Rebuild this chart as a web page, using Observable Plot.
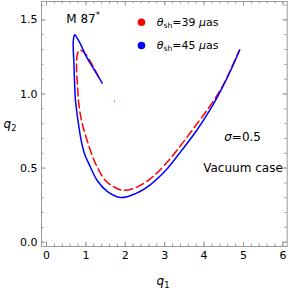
<!DOCTYPE html>
<html><head><meta charset="utf-8">
<script src="https://cdn.jsdelivr.net/npm/d3@7"></script>
<script src="https://cdn.jsdelivr.net/npm/@observablehq/plot@0.6"></script>
<style>body{margin:0;background:#fff}svg{display:block}</style>
</head><body><div id="chart"></div>
<script>
// theta_sh = 45 muas (blue, solid)
const blueQ1 = [1.414, 1.200, 1.015, 0.863, 0.761, 0.718, 0.685, 0.678, 0.693, 0.711, 0.736, 0.799, 0.881, 0.964, 1.074, 1.287, 1.548, 1.878, 2.259, 2.640, 3.020, 3.426, 3.807, 4.137, 4.442, 4.680, 4.906];
const blueQ2 = [1.073, 1.168, 1.250, 1.336, 1.385, 1.399, 1.372, 1.313, 1.224, 1.089, 0.954, 0.820, 0.685, 0.597, 0.530, 0.416, 0.341, 0.301, 0.328, 0.389, 0.483, 0.618, 0.752, 0.887, 1.033, 1.162, 1.298];
// theta_sh = 39 muas (red, dashed)
const redQ1 = [1.320, 1.117, 0.964, 0.845, 0.787, 0.761, 0.787, 0.825, 0.901, 1.033, 1.244, 1.497, 1.701, 1.929, 2.259, 2.640, 3.020, 3.401, 3.782, 4.137, 4.442, 4.670, 4.886];
const redQ2 = [1.116, 1.217, 1.277, 1.296, 1.271, 1.190, 1.055, 0.921, 0.806, 0.685, 0.530, 0.416, 0.375, 0.350, 0.368, 0.429, 0.527, 0.651, 0.786, 0.914, 1.040, 1.162, 1.291];
const strayQ1 = [1.726];
const strayQ2 = [0.952];
const xTicks = [0, 1, 2, 3, 4, 5, 6];
const yTicks = [0, 0.5, 1.0, 1.5];
const legendLabels = ["39", "45"];
const legendColors = ["#ff0000", "#0000ff"];

const W = 288, H = 290, mL = 41, mR = 1.3, mT = 1, mB = 44;
const fw = W - mL - mR, fh = H - mT - mB;
const xMinor = d3.range(0, 6.001, 0.2);
const yMinor = d3.range(0, 1.601, 0.1);
const gray = "#9a9a9a";

const toRows = (xs, ys) => xs.map((x, i) => ({x, y: ys[i]}));
const blue = toRows(blueQ1, blueQ2);
const red = toRows(redQ1, redQ2);
const stray = toRows(strayQ1, strayQ2);
const legendY = [1.484, 1.327];
const legendRows = legendLabels.map((l, i) => ({x: 2.41, y: legendY[i], c: legendColors[i]}));

const plot = Plot.plot({
  width: W, height: H,
  marginLeft: mL, marginRight: mR, marginTop: mT, marginBottom: mB,
  style: {fontFamily: "DejaVu Sans", fontSize: "11px", background: "#fff"},
  x: {domain: [-0.127, 6.109]},
  y: {domain: [-0.029, 1.624]},
  marks: [
    Plot.tickX(xMinor, {x: d => d, stroke: gray, insetTop: fh - 2.5}),
    Plot.tickX(xMinor, {x: d => d, stroke: gray, insetBottom: fh - 2.5}),
    Plot.tickY(yMinor, {y: d => d, stroke: gray, insetRight: fw - 2.5}),
    Plot.tickY(yMinor, {y: d => d, stroke: gray, insetLeft: fw - 2.5}),
    Plot.tickX(xTicks, {x: d => d, stroke: gray, insetTop: fh - 4.5}),
    Plot.tickX(xTicks, {x: d => d, stroke: gray, insetBottom: fh - 4.5}),
    Plot.tickY(yTicks, {y: d => d, stroke: gray, insetRight: fw - 4.5}),
    Plot.tickY(yTicks, {y: d => d, stroke: gray, insetLeft: fw - 4.5}),
    Plot.frame({stroke: gray}),
    Plot.axisX({ticks: xTicks, tickSize: 0, tickPadding: 5, label: null, fontSize: 11, tickFormat: d3.format("d")}),
    Plot.axisY({ticks: yTicks, tickSize: 0, tickPadding: 4, label: null, fontSize: 11, tickFormat: d3.format(".1f")}),
    Plot.line(red, {x: "x", y: "y", stroke: "#ff0000", strokeWidth: 1.5, strokeDasharray: "8,4", curve: "catmull-rom"}),
    Plot.line(blue, {x: "x", y: "y", stroke: "#0000ff", strokeWidth: 1.5, curve: "catmull-rom"}),
    Plot.dot(stray, {x: "x", y: "y", r: 0.7, fill: "#ff0000", stroke: null}),
    Plot.dot(legendRows, {x: "x", y: "y", r: 3.8, fill: "c", stroke: null})
  ]
});
document.getElementById("chart").appendChild(plot);

const svg = d3.select(plot);
const sx = plot.scale("x"), sy = plot.scale("y");
const F = "DejaVu Sans";

function addText(x, y, parts, size, anchor) {
  const t = svg.append("text").attr("x", x).attr("y", y)
    .attr("font-family", F).attr("font-size", size)
    .attr("text-anchor", anchor || "start").attr("dominant-baseline", "central").attr("fill", "#000");
  parts.forEach(p => {
    const s = t.append("tspan").text(p.t);
    if (p.i) s.attr("font-style", "italic");
    if (p.sub) s.attr("font-size", size * 0.7).attr("dy", size * 0.3);
    if (p.sup) s.attr("font-size", size * 0.7).attr("dy", -size * 0.35);
    if (p.back) s.attr("dy", p.back);
  });
  return t;
}

legendLabels.forEach((l, i) => {
  addText(sx.apply(2.81), sy.apply(legendY[i]), [
    {t: "θ", i: true}, {t: "sh", sub: true}, {t: "=" + l + " ", back: -11 * 0.3},
    {t: "μ", i: true}, {t: "as"}
  ], 11);
});
addText(sx.apply(0.94), sy.apply(1.50), [{t: "M 87"}, {t: "*", sup: true}], 12, "middle");
addText(sx.apply(4.99), sy.apply(0.707), [{t: "σ", i: true}, {t: "=0.5"}], 12, "middle");
addText(sx.apply(5.0), sy.apply(0.50), [{t: "Vacuum case"}], 12, "middle");
addText(163, 281, [{t: "q", i: true}, {t: "1", sub: true}], 12, "middle");
addText(10, 124, [{t: "q", i: true}, {t: "2", sub: true}], 12, "middle");
</script>
</body></html>
